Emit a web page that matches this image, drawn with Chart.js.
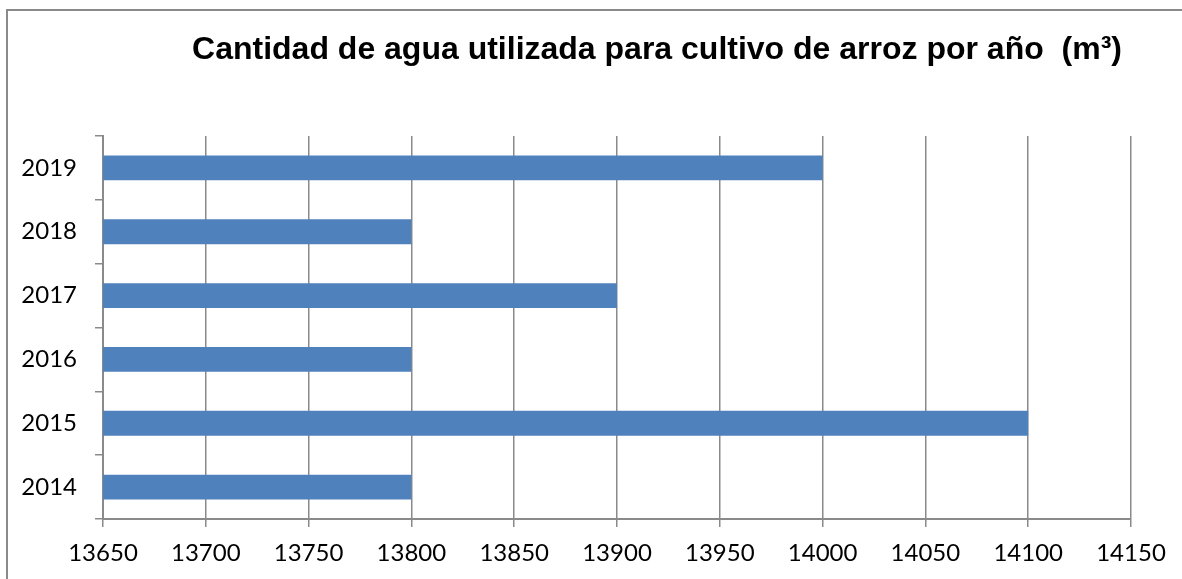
<!DOCTYPE html>
<html>
<head>
<meta charset="utf-8">
<script src="https://cdn.jsdelivr.net/npm/chart.js@4.4.1/dist/chart.umd.min.js"></script>
<style>
  html, body { margin: 0; padding: 0; background: #fff; overflow: hidden; }
  .frame {
    position: absolute; left: 6px; top: 9px; width: 1300px; height: 700px;
    border: 2px solid #8a8a8a; box-sizing: border-box;
  }
  .wrap { position: absolute; left: 0; top: 0; width: 1182px; height: 579px; }
</style>
</head>
<body>
<div class="frame"></div>
<div class="wrap"><canvas id="chart" width="1182" height="579"></canvas></div>
<script>
// Years listed top to bottom, as in the picture
const years = ['2019', '2018', '2017', '2016', '2015', '2014'];
const waterUsed = [14000, 13800, 13900, 13800, 14100, 13800];
const xMin = 13650;
const xMax = 14150;
const xStep = 50;
const chartTitle = 'Cantidad de agua utilizada para cultivo de arroz por año  (m³)';

const tickFont = { family: 'Lato', size: 24 };

// Title drawn at a fixed spot, like the original chart
const titlePlugin = {
  id: 'fixedTitle',
  afterDraw(chart) {
    const ctx = chart.ctx;
    ctx.save();
    ctx.font = 'bold 32px "Liberation Sans", Arial, sans-serif';
    ctx.fillStyle = '#000';
    ctx.textAlign = 'center';
    ctx.textBaseline = 'alphabetic';
    ctx.fillText(chartTitle, 657, 59);
    ctx.restore();
  }
};

const ctx = document.getElementById('chart').getContext('2d');
new Chart(ctx, {
  type: 'bar',
  data: {
    labels: years,
    datasets: [{
      label: 'Agua',
      data: waterUsed,
      backgroundColor: '#4F81BD',
      borderWidth: 0,
      barPercentage: 0.39,
      categoryPercentage: 1
    }]
  },
  plugins: [titlePlugin],
  options: {
    indexAxis: 'y',
    responsive: false,
    animation: false,
    layout: { padding: { top: 136, right: 51, left: 0, bottom: 0 } },
    plugins: {
      legend: { display: false },
      title: { display: false },
      tooltip: { enabled: false }
    },
    scales: {
      x: {
        min: xMin,
        max: xMax,
        ticks: {
          stepSize: xStep, color: '#000', font: tickFont, padding: 12, maxRotation: 0,
          callback: (value) => String(value)
        },
        grid: { color: '#8a8a8a', lineWidth: 1.5, tickLength: 8 },
        border: { color: '#8a8a8a', width: 2 },
        afterFit(scale) { scale.height = 60; }
      },
      y: {
        ticks: { color: '#000', font: tickFont, padding: 18 },
        grid: { drawOnChartArea: false, color: '#8a8a8a', lineWidth: 1.5, tickLength: 8, offset: true },
        border: { color: '#8a8a8a', width: 2 },
        afterFit(scale) { scale.width = 103; }
      }
    }
  }
});
</script>
</body>
</html>
